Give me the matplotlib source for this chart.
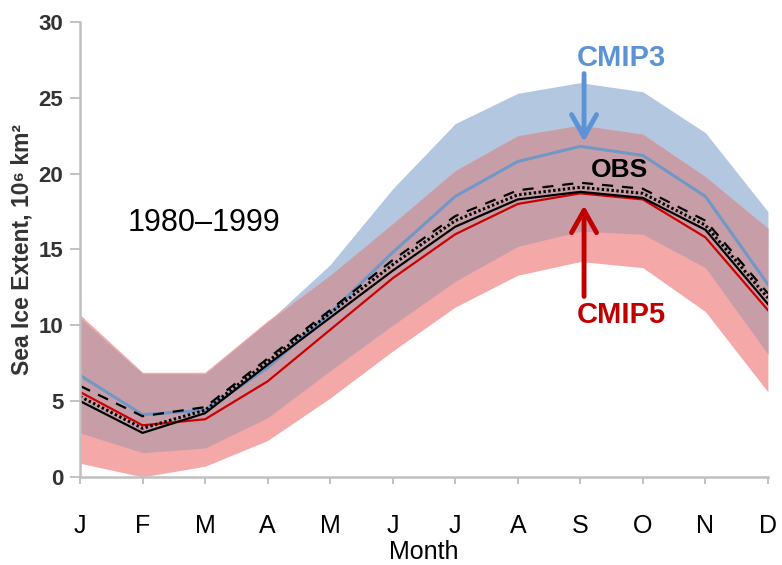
import numpy as np
import matplotlib
matplotlib.use('Agg')
import matplotlib.pyplot as plt

plt.rcParams['font.family'] = ['Liberation Sans', 'DejaVu Sans']

# 月份
months = ['J', 'F', 'M', 'A', 'M', 'J', 'J', 'A', 'S', 'O', 'N', 'D']

# CMIP3 (blue) mean and range, 10^6 km^2
cmip3_mean = [6.7, 4.1, 4.4, 7.2, 10.8, 14.8, 18.5, 20.8, 21.8, 21.2, 18.5, 12.7]
cmip3_high = [10.5, 6.8, 6.8, 10.2, 14.0, 19.0, 23.3, 25.3, 26.0, 25.4, 22.7, 17.5]
cmip3_low = [2.9, 1.6, 1.9, 3.9, 7.0, 10.0, 12.9, 15.2, 16.2, 16.0, 13.8, 8.1]

# CMIP5 (red) mean and range
cmip5_mean = [5.6, 3.4, 3.8, 6.3, 9.7, 13.1, 16.0, 18.0, 18.7, 18.3, 15.8, 11.0]
cmip5_high = [10.7, 6.9, 6.9, 10.3, 13.3, 16.7, 20.2, 22.5, 23.2, 22.6, 19.8, 16.4]
cmip5_low = [0.9, 0.0, 0.7, 2.4, 5.2, 8.3, 11.2, 13.3, 14.2, 13.8, 10.9, 5.6]

# observations
obs_solid = [5.0, 2.9, 4.2, 7.4, 10.5, 13.6, 16.5, 18.3, 18.8, 18.4, 16.3, 11.4]
obs_dashed = [6.0, 4.0, 4.6, 7.8, 11.0, 14.3, 17.2, 18.9, 19.4, 19.0, 16.9, 12.1]
obs_dotted = [5.3, 3.2, 4.4, 7.6, 10.8, 14.0, 16.9, 18.6, 19.1, 18.7, 16.6, 11.8]

x = np.arange(len(months))

fig = plt.figure(figsize=(7.82, 5.65), dpi=100)
ax = fig.add_axes([0.1023, 0.156, 0.8797, 0.805])

# 阴影区间 (重叠部分单独上色)
ax.fill_between(x, cmip3_low, cmip3_high, color='#b3c7e1', lw=0)
ax.fill_between(x, cmip5_low, cmip5_high, color='#f4a8a8', lw=0)
ov_low = np.maximum(cmip3_low, cmip5_low)
ov_high = np.minimum(cmip3_high, cmip5_high)
ax.fill_between(x, ov_low, ov_high, where=ov_high > ov_low, interpolate=True,
                color='#c79ea7', lw=0)

# 曲线
ax.plot(x, cmip3_mean, color='#7098c6', lw=2.2)
ax.plot(x, cmip5_mean, color='#cc0000', lw=1.6)
ax.plot(x, obs_dotted, color='black', lw=2.2, ls=(0, (0.8, 0.8)))
ax.plot(x, obs_dashed, color='black', lw=1.6, ls=(0, (5, 4)))
ax.plot(x, obs_solid, color='black', lw=1.6)

ax.set_xlim(0, 11)
ax.set_ylim(0, 30)
ax.set_xticks(x)
ax.set_xticklabels(months, fontsize=18)
ax.set_yticks([0, 5, 10, 15, 20, 25, 30])
for lab in ax.get_yticklabels():
    lab.set_fontweight('bold')
    lab.set_fontsize(16)
    lab.set_color('#333333')

ax.tick_params(axis='x', length=5, width=1.2, color='#b8b8b8', pad=22)
ax.tick_params(axis='y', length=7, width=1.2, color='#b8b8b8', pad=5)
for s in ['top', 'right']:
    ax.spines[s].set_visible(False)
for s in ['left', 'bottom']:
    ax.spines[s].set_color('#c0c0c0')
    ax.spines[s].set_linewidth(1.8)

ax.set_xlabel('Month', fontsize=18, labelpad=1)
ax.set_ylabel('Sea Ice Extent, 10⁶ km²', fontsize=16.5, fontweight='bold',
              color='#333333', labelpad=4)

# 注释
ax.text(1.98, 16.74, '1980–1999', fontsize=22, ha='center', va='center')
ax.text(8.66, 27.65, 'CMIP3', fontsize=21, fontweight='bold', color='#5b93d6',
        ha='center', va='center')
ax.text(8.62, 20.24, 'OBS', fontsize=19, fontweight='bold', color='black',
        ha='center', va='center')
ax.text(8.66, 10.68, 'CMIP5', fontsize=21, fontweight='bold', color='#c00000',
        ha='center', va='center')

ax.annotate('', xy=(8.06, 22.1), xytext=(8.06, 26.6),
            arrowprops=dict(arrowstyle='->,head_length=0.8,head_width=0.45',
                            color='#5b93d6', lw=3.5, mutation_scale=20,
                            shrinkA=0, shrinkB=0))
ax.annotate('', xy=(8.06, 17.9), xytext=(8.06, 11.9),
            arrowprops=dict(arrowstyle='->,head_length=0.8,head_width=0.45',
                            color='#c00000', lw=3.5, mutation_scale=20,
                            shrinkA=0, shrinkB=0))

fig.savefig('out.png', dpi=100)
